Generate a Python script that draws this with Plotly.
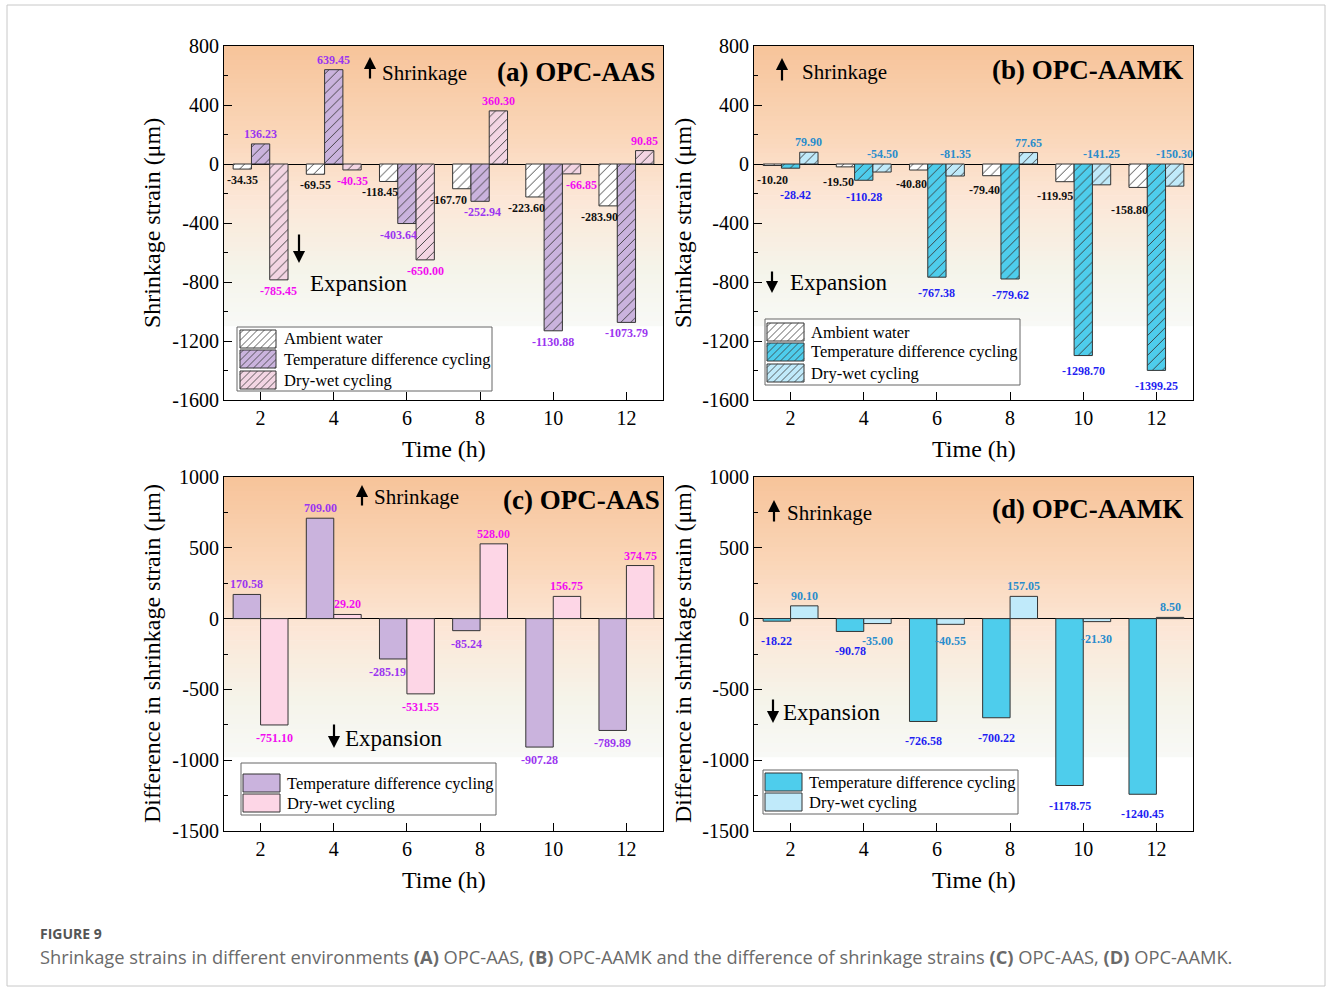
import plotly.graph_objects as go

W, H = 1330, 989

# ---------------------------------------------------------------- data
time_h = [2, 4, 6, 8, 10, 12]

# (a) OPC-AAS shrinkage strain (µm)
aas_ambient = [-34.35, -69.55, -118.45, -167.70, -223.60, -283.90]
aas_temp = [136.23, 639.45, -403.64, -252.94, -1130.88, -1073.79]
aas_drywet = [-785.45, -40.35, -650.00, 360.30, -66.85, 90.85]

# (b) OPC-AAMK shrinkage strain (µm)
aamk_ambient = [-10.20, -19.50, -40.80, -79.40, -119.95, -158.80]
aamk_temp = [-28.42, -110.28, -767.38, -779.62, -1298.70, -1399.25]
aamk_drywet = [79.90, -54.50, -81.35, 77.65, -141.25, -150.30]

# (c) OPC-AAS difference relative to ambient water (µm)
aas_diff_temp = [170.58, 709.00, -285.19, -85.24, -907.28, -789.89]
aas_diff_drywet = [-751.10, 29.20, -531.55, 528.00, 156.75, 374.75]

# (d) OPC-AAMK difference relative to ambient water (µm)
aamk_diff_temp = [-18.22, -90.78, -726.58, -700.22, -1178.75, -1240.45]
aamk_diff_drywet = [90.10, -35.00, -40.55, 157.05, -21.30, 8.50]

ytick_top = [800, 400, 0, -400, -800, -1200, -1600]
ytick_bottom = [1000, 500, 0, -500, -1000, -1500]

# ---------------------------------------------------------------- styling
SERIF = "Liberation Serif"
BARGAP = 0.25

C_WHITE = "#ffffff"
C_PURPLE = "#cab3dd"
C_PINK_H = "#f3d5e3"
C_PINK = "#fdd6e6"
C_CYAN = "#4ecdec"
C_LCYAN = "#c0eafa"

L_BLACK = "#111111"
L_PURPLE = "#9b35f0"
L_MAGENTA = "#f20cf0"
L_BLUE = "#1f1ff2"
L_STEEL = "#2a8ccc"


def px(x):
    return x / W


def py(y):
    return 1 - y / H


# plot rectangles in page pixels: (left, top, right, bottom)
panels = {
    "a": dict(rect=(224, 46, 663, 400), ax="", yr=[-1600, 800], ticks=ytick_top, minor=200),
    "b": dict(rect=(754, 46, 1193, 400), ax="2", yr=[-1600, 800], ticks=ytick_top, minor=200),
    "c": dict(rect=(224, 477, 663, 831), ax="3", yr=[-1500, 1000], ticks=ytick_bottom, minor=250),
    "d": dict(rect=(754, 477, 1193, 831), ax="4", yr=[-1500, 1000], ticks=ytick_bottom, minor=250),
}

NAME_AMB = "Ambient water"
NAME_TDC = "Temperature difference cycling"
NAME_DW = "Dry-wet cycling"

series = {
    "a": [
        dict(name=NAME_AMB, y=aas_ambient, fill=C_WHITE, hatch=True, lc=L_BLACK,
             dx=[0, 0, -9, -13, -8, -9], dy=[0, 0, 0, 0, 0, 0]),
        dict(name=NAME_TDC, y=aas_temp, fill=C_PURPLE, hatch=True, lc=L_PURPLE,
             dx=[0, 0, -8, 2, 0, 0], dy=[0] * 6),
        dict(name=NAME_DW, y=aas_drywet, fill=C_PINK_H, hatch=True, lc=L_MAGENTA,
             dx=[0, 0, 0, 0, 10, 0], dy=[0] * 6),
    ],
    "b": [
        dict(name=NAME_AMB, y=aamk_ambient, fill=C_WHITE, hatch=True, lc=L_BLACK,
             dx=[0, -7, -7, -7, -10, -9], dy=[4, 4, 3, 3, 3, 12]),
        dict(name=NAME_TDC, y=aamk_temp, fill=C_CYAN, hatch=True, lc=L_BLUE,
             dx=[5, 0, 0, 0, 0, 0], dy=[16, 6, 5, 5, 4, 5]),
        dict(name=NAME_DW, y=aamk_drywet, fill=C_LCYAN, hatch=True, lc=L_STEEL,
             dx=[0] * 6, dy=[0] * 6, above=True),
    ],
    "c": [
        dict(name=NAME_TDC, y=aas_diff_temp, fill=C_PURPLE, hatch=False, lc=L_PURPLE,
             dx=[0, 0, -6, 0, 0, 0], dy=[2] * 6),
        dict(name=NAME_DW, y=aas_diff_drywet, fill=C_PINK, hatch=False, lc=L_MAGENTA,
             dx=[0] * 6, dy=[2] * 6),
    ],
    "d": [
        dict(name=NAME_TDC, y=aamk_diff_temp, fill=C_CYAN, hatch=False, lc=L_BLUE,
             dx=[0] * 6, dy=[9] * 6),
        dict(name=NAME_DW, y=aamk_diff_drywet, fill=C_LCYAN, hatch=False, lc=L_STEEL,
             dx=[0] * 6, dy=[6] * 6),
    ],
}

titles = {"a": "(a) OPC-AAS", "b": "(b) OPC-AAMK", "c": "(c) OPC-AAS", "d": "(d) OPC-AAMK"}
title_pos = {"a": (657, 72), "b": (1185, 70), "c": (662, 500), "d": (1185, 509)}
ytitles = {"a": "Shrinkage strain (μm)", "b": "Shrinkage strain (μm)",
           "c": "Difference in shrinkage strain (μm)", "d": "Difference in shrinkage strain (μm)"}
ytitle_x = {"a": 152, "b": 683, "c": 152, "d": 683}

# (arrow x, head y, tail y, text left x, text centre y)
shrink_marks = {"a": (370, 57, 80, 380, 73), "b": (782, 58, 82, 800, 72),
                "c": (362, 485, 507, 372, 497), "d": (774, 500, 523, 785, 513)}
expand_marks = {"a": (299, 263, 233, 308, 283), "b": (772, 293, 270, 788, 282),
                "c": (334, 748, 723, 343, 738), "d": (773, 723, 698, 781, 712)}

# legend frame (l, t, r, b), row centres, swatch x-span, text x
legends = {
    "a": dict(box=(237, 327, 492, 391), rows=[339, 359, 380], sw=(240, 276), tx=282),
    "b": dict(box=(765, 319, 1020, 385), rows=[332, 352, 373], sw=(767, 804), tx=809),
    "c": dict(box=(241, 763, 496, 815), rows=[783, 803], sw=(243, 280), tx=285),
    "d": dict(box=(763, 770, 1018, 814), rows=[782, 802], sw=(765, 802), tx=807),
}

fig = go.Figure()
shapes = []
annotations = []


def lerp_color(t):
    stops = [(0.0, (247, 196, 154)), (0.3, (250, 213, 183)), (0.55, (252, 231, 215)),
             (0.8, (245, 244, 234)), (1.0, (248, 249, 246))]
    for (t0, c0), (t1, c1) in zip(stops[:-1], stops[1:]):
        if t <= t1:
            f = (t - t0) / (t1 - t0)
            return "rgb(%d,%d,%d)" % tuple(round(a + (b - a) * f) for a, b in zip(c0, c1))
    return "rgb(%d,%d,%d)" % stops[-1][1]


def hatch_path(x0, y0, x1, y1, step):
    parts = []
    c = x0 + y0 + step / 2
    while c < x1 + y1:
        xa = max(x0, c - y1)
        xb = min(x1, c - y0)
        if xb > xa:
            parts.append("M%.5f,%.5f L%.5f,%.5f" % (px(xa), py(c - xa), px(xb), py(c - xb)))
        c += step
    return " ".join(parts)


for key, p in panels.items():
    l, t, r, b = p["rect"]
    sfx = p["ax"]
    xname, yname = "x" + sfx, "y" + sfx
    xdom, ydom = [px(l), px(r)], [py(b), py(t)]

    # background wash: warm at the top, fading out toward the lower part
    n = 60
    span = 0.79
    for i in range(n):
        top = 1 - span * i / n
        bot = 1 - span * (i + 1) / n - 0.002
        shapes.append(dict(type="rect", xref=xname + " domain", yref=yname + " domain",
                           x0=0, x1=1, y0=bot, y1=top, layer="below",
                           fillcolor=lerp_color((i + 0.5) / n), line=dict(width=0)))

    group = series[key]
    k = len(group)
    bw = 2 * (1 - BARGAP) / k
    for j, s in enumerate(group):
        marker = dict(color=s["fill"], line=dict(color="#333333", width=1))
        if s["hatch"]:
            marker["pattern"] = dict(shape="/", fgcolor="#3a3a3a", bgcolor=s["fill"],
                                     size=7, solidity=0.13, fillmode="replace")
        fig.add_trace(go.Bar(x=time_h, y=s["y"], name=s["name"], marker=marker,
                             xaxis=xname, yaxis=yname, showlegend=False))
        off = -(1 - BARGAP) + bw * (j + 0.5)
        for i, (tx, v) in enumerate(zip(time_h, s["y"])):
            above = v >= 0 or s.get("above", False)
            annotations.append(dict(
                x=tx + off, y=max(v, 0) if above else v, xref=xname, yref=yname,
                text="%.2f" % v, showarrow=False,
                xanchor="center", yanchor="bottom" if above else "top",
                xshift=s["dx"][i],
                yshift=(1 if above else -2 - s["dy"][i]),
                font=dict(family=SERIF, size=12, color=s["lc"], weight="bold")))

    ticks = p["ticks"]
    lo, hi = p["yr"]
    minor_vals = list(range(lo, hi + 1, p["minor"]))
    axis_common = dict(showline=True, mirror=True, linecolor="black", linewidth=1.2,
                       showgrid=False, ticks="inside", ticklen=8, tickwidth=1,
                       tickcolor="black", automargin=False,
                       tickfont=dict(family=SERIF, size=20, color="black"))
    fig.update_layout(**{
        ("xaxis" + sfx): dict(domain=xdom, range=[1, 13], tickvals=time_h,
                              ticktext=[str(v) for v in time_h], zeroline=False,
                              anchor=yname, **axis_common),
        ("yaxis" + sfx): dict(domain=ydom, range=p["yr"], tickvals=ticks,
                              ticktext=[str(v) for v in ticks], zeroline=True,
                              zerolinecolor="black", zerolinewidth=1.3, anchor=xname,
                              minor=dict(tickvals=minor_vals, ticks="inside", ticklen=4,
                                         tickcolor="black", showgrid=False),
                              **axis_common),
    })

    # panel title, axis titles
    tx_, ty_ = title_pos[key]
    annotations.append(dict(x=px(tx_), y=py(ty_), xref="paper", yref="paper",
                            text=titles[key], showarrow=False, xanchor="right", yanchor="middle",
                            font=dict(family=SERIF, size=27, color="black", weight="bold")))
    annotations.append(dict(x=px(ytitle_x[key]), y=py((t + b) / 2), xref="paper", yref="paper",
                            text=ytitles[key], showarrow=False, textangle=-90,
                            xanchor="center", yanchor="middle",
                            font=dict(family=SERIF, size=24, color="black")))
    annotations.append(dict(x=px((l + r) / 2), y=py(b + 49), xref="paper", yref="paper",
                            text="Time (h)", showarrow=False, xanchor="center", yanchor="middle",
                            font=dict(family=SERIF, size=24, color="black")))

    # shrinkage / expansion indicators
    for marks, word, size in ((shrink_marks, "Shrinkage", 21), (expand_marks, "Expansion", 23)):
        ax_, hy, ty2, lx, cy = marks[key]
        annotations.append(dict(x=px(ax_), y=py(hy), xref="paper", yref="paper",
                                ax=0, ay=ty2 - hy, text="", showarrow=True,
                                arrowhead=2, arrowsize=1.1, arrowwidth=2.2, arrowcolor="black"))
        annotations.append(dict(x=px(lx), y=py(cy), xref="paper", yref="paper",
                                text=word, showarrow=False, xanchor="left", yanchor="middle",
                                font=dict(family=SERIF, size=size, color="black")))

    # legend frame with hatched swatches
    lg = legends[key]
    bl, bt, br, bb = lg["box"]
    shapes.append(dict(type="rect", xref="paper", yref="paper", x0=px(bl), x1=px(br),
                       y0=py(bb), y1=py(bt), fillcolor="white",
                       line=dict(color="#666666", width=1)))
    for s, cy in zip(group, lg["rows"]):
        sx0, sx1 = lg["sw"]
        sy0, sy1 = cy - 9, cy + 9
        shapes.append(dict(type="rect", xref="paper", yref="paper", x0=px(sx0), x1=px(sx1),
                           y0=py(sy1), y1=py(sy0), fillcolor=s["fill"],
                           line=dict(color="#333333", width=1)))
        if s["hatch"]:
            shapes.append(dict(type="path", xref="paper", yref="paper",
                               path=hatch_path(sx0, sy0, sx1, sy1, 7),
                               line=dict(color="#3a3a3a", width=0.8)))
        annotations.append(dict(x=px(lg["tx"]), y=py(cy), xref="paper", yref="paper",
                                text=s["name"], showarrow=False, xanchor="left", yanchor="middle",
                                font=dict(family=SERIF, size=16.5, color="black")))

# page frame and caption
shapes.append(dict(type="rect", xref="paper", yref="paper", x0=px(7), x1=px(1325),
                   y0=py(986), y1=py(5), line=dict(color="#c8c8c8", width=1), layer="below"))
annotations.append(dict(x=px(38), y=py(933), xref="paper", yref="paper", text="<b>FIGURE 9</b>",
                        showarrow=False, xanchor="left", yanchor="middle",
                        font=dict(family="Open Sans", size=14, color="#555555")))
annotations.append(dict(
    x=px(38), y=py(956), xref="paper", yref="paper",
    text="Shrinkage strains in different environments <b>(A)</b> OPC-AAS, <b>(B)</b> OPC-AAMK "
         "and the difference of shrinkage strains <b>(C)</b> OPC-AAS, <b>(D)</b> OPC-AAMK.",
    showarrow=False, xanchor="left", yanchor="middle",
    font=dict(family="Open Sans", size=18.3, color="#6a6a6a")))

fig.update_layout(width=W, height=H,
                  margin=dict(l=0, r=0, t=0, b=0, pad=0, autoexpand=False),
                  paper_bgcolor="white", plot_bgcolor="white",
                  barmode="group", bargap=BARGAP, bargroupgap=0,
                  shapes=shapes, annotations=annotations, showlegend=False)

fig.write_html("out.html")
